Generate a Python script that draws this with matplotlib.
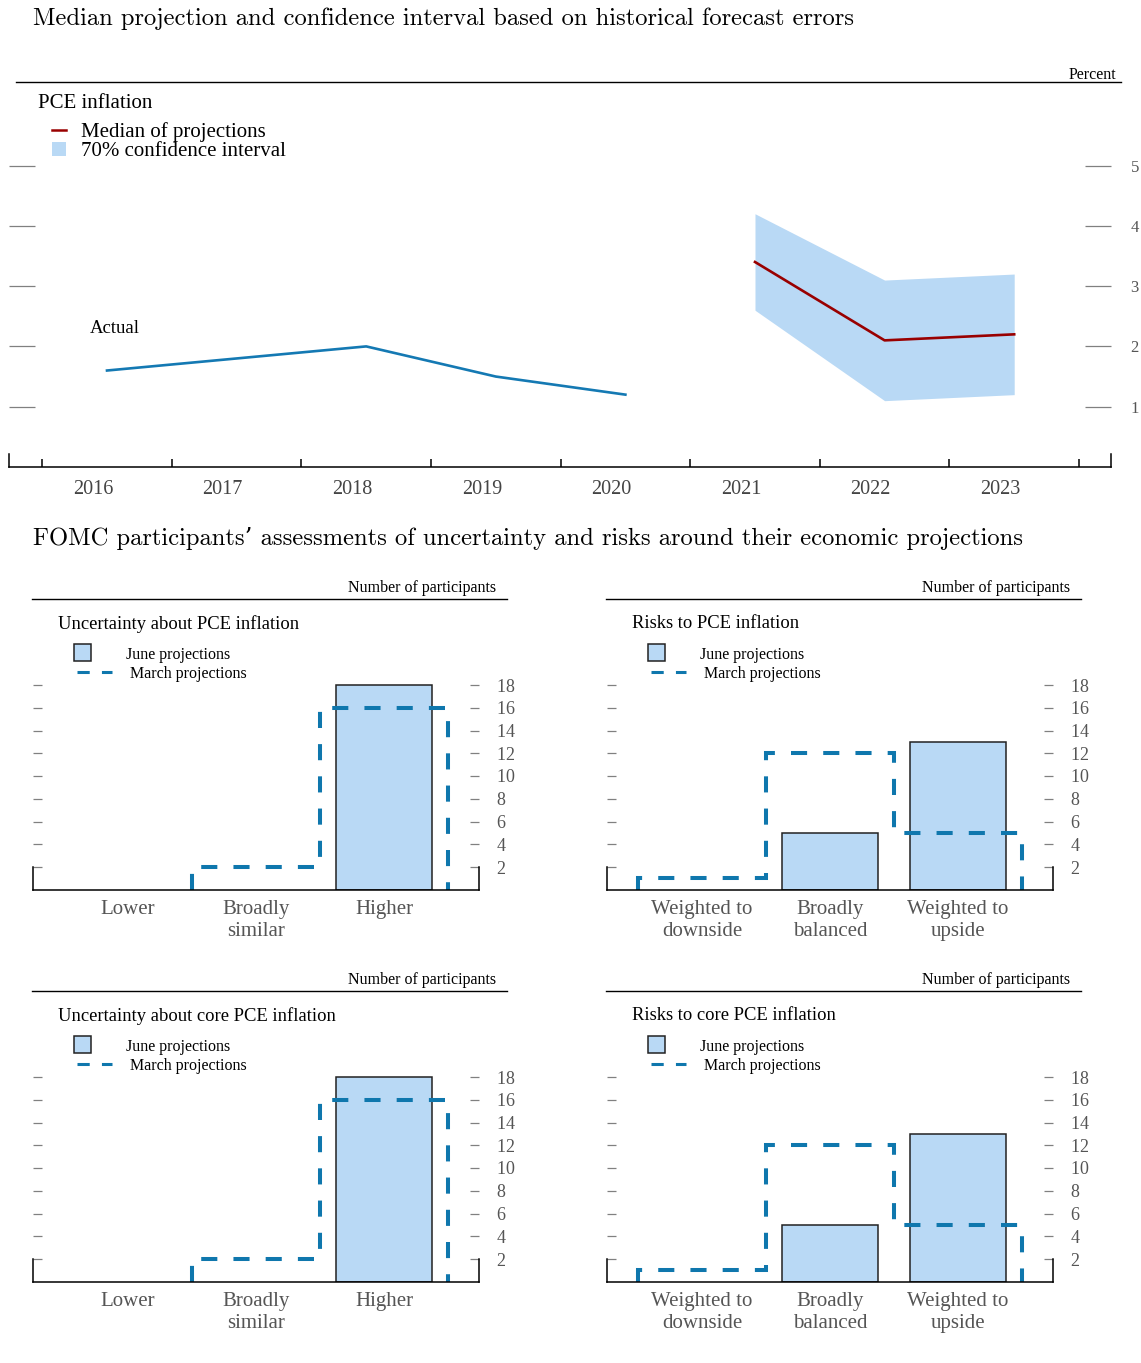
import matplotlib
matplotlib.use('Agg')
import matplotlib.pyplot as plt
import matplotlib.transforms as mtransforms
from matplotlib.lines import Line2D
from matplotlib.patches import Rectangle
import numpy as np

# ---------------- data ----------------
actual_years = [2016, 2017, 2018, 2019, 2020]
actual_values = [1.6, 1.8, 2.0, 1.5, 1.2]
proj_years = [2021, 2022, 2023]
median_values = [3.4, 2.1, 2.2]
ci_lower = [2.6, 1.1, 1.2]
ci_upper = [4.2, 3.1, 3.2]
year_labels = [2016, 2017, 2018, 2019, 2020, 2021, 2022, 2023]
pct_ticks = [1, 2, 3, 4, 5]

uncert_categories = ['Lower', 'Broadly\nsimilar', 'Higher']
risk_categories = ['Weighted to\ndownside', 'Broadly\nbalanced', 'Weighted to\nupside']
pce_uncert_june = [0, 0, 18]
pce_uncert_march = [0, 2, 16]
pce_risk_june = [0, 5, 13]
pce_risk_march = [1, 12, 5]
core_uncert_june = [0, 0, 18]
core_uncert_march = [0, 2, 16]
core_risk_june = [0, 5, 13]
core_risk_march = [1, 12, 5]
count_ticks = [2, 4, 6, 8, 10, 12, 14, 16, 18]

# ---------------- style ----------------
W, H = 1141, 1363
DPI = 100
SERIF = ['Liberation Serif', 'DejaVu Serif']
TITLE_FONT = ['cmr10', 'DejaVu Serif']
plt.rcParams['font.family'] = SERIF
plt.rcParams['axes.formatter.use_mathtext'] = True

BLUE_LINE = '#1479b3'
RED_LINE = '#990000'
CI_FILL = '#b9d9f5'
BAR_FILL = '#b9d9f5'
DASH_BLUE = '#0f77ad'
GRAY_TICK = '#808080'
GRAY_TEXT = '#555555'

fig = plt.figure(figsize=(W / DPI, H / DPI), dpi=DPI)


def fx(x):
    return x / W


def fy(y):
    return 1 - y / H


def ftext(x, y, s, **kw):
    fig.text(fx(x), fy(y + 2), s, **kw)


def hline(x0, x1, y, lw=1.0, color='black'):
    fig.add_artist(Line2D([fx(x0), fx(x1)], [fy(y), fy(y)], lw=lw, color=color,
                          transform=fig.transFigure))


# ================= Top chart =================
ftext(33, 17, 'Median projection and confidence interval based on historical forecast errors',
      family=TITLE_FONT, fontsize=17.7, va='center', ha='left')
hline(16, 1121, 82, lw=1.0)
ftext(1116, 73, 'Percent', fontsize=11.5, ha='right', va='center')
ftext(38, 101, 'PCE inflation', fontsize=15, ha='left', va='center')
fig.add_artist(Line2D([fx(52), fx(66)], [fy(130), fy(130)], lw=1.8, color=RED_LINE,
                      transform=fig.transFigure))
ftext(81, 130, 'Median of projections', fontsize=15, ha='left', va='center')
fig.add_artist(Rectangle((fx(52), fy(156)), fx(14), 14 / H, facecolor=CI_FILL,
                         edgecolor='none', transform=fig.transFigure))
ftext(81, 149, '70% confidence interval', fontsize=15, ha='left', va='center')

ax_top_y0, ax_top_y1 = 467, 147
ymax_top = (ax_top_y0 - ax_top_y1) / 60.3
ax = fig.add_axes([fx(9), fy(ax_top_y0), fx(1111 - 9), (ax_top_y0 - ax_top_y1) / H])
px_per_year = 129.6
ax.set_xlim(2016 - (107 - 9) / px_per_year, 2016 + (1111 - 107) / px_per_year)
ax.set_ylim(0, ymax_top)

ax.fill_between(proj_years, ci_lower, ci_upper, color=CI_FILL, lw=0, zorder=1)
ax.plot(proj_years, median_values, color=RED_LINE, lw=1.9, zorder=3)
ax.plot(actual_years, actual_values, color=BLUE_LINE, lw=1.9, zorder=3)
ax.text(2016 - 17 / px_per_year, 2.29, 'Actual', fontsize=13.5, ha='left', va='center')

ax.spines['top'].set_visible(False)
for s in ['left', 'right']:
    ax.spines[s].set_bounds(0, 0.21)
    ax.spines[s].set_linewidth(1.1)
ax.spines['bottom'].set_linewidth(1.1)
ax.set_xticks([y - 0.5 for y in year_labels] + [year_labels[-1] + 0.5])
ax.tick_params(axis='x', direction='in', length=5.8, width=1.1, labelbottom=False)
ax.set_yticks(pct_ticks)
ax.tick_params(axis='y', left=True, right=True, direction='in', length=18.7, width=0.9,
               color=GRAY_TICK, labelleft=False, labelright=True, pad=14,
               labelsize=12, labelcolor=GRAY_TEXT)
tr = mtransforms.blended_transform_factory(ax.transData, fig.transFigure)
for yr in year_labels:
    ax.text(yr - 14 / px_per_year, fy(490), str(yr), transform=tr, ha='center', va='center',
            fontsize=14.5, color='#444444')

# ================= Bottom panels =================
ftext(33, 536, 'FOMC participants\u2019 assessments of uncertainty and risks around their economic projections',
      family=TITLE_FONT, fontsize=17.7, va='center', ha='left')

PX_UNIT = 11.375
YMAX = 18.5


def march_path(vals):
    vals = list(vals)
    nz = [i for i, v in enumerate(vals) if v != 0]
    first, last = nz[0], nz[-1]
    xs, ys = [first - 0.5], [0]
    for i in range(first, last + 1):
        xs += [i - 0.5, i + 0.5]
        ys += [vals[i], vals[i]]
    xs.append(last + 0.5)
    ys.append(0)
    return xs, ys


def panel(xoff, yoff, title, cats, june, march):
    # header
    ftext(496 + xoff, 586 + yoff, 'Number of participants', fontsize=11.5, ha='right', va='center')
    hline(32 + xoff, 507 + xoff, 599 + yoff, lw=1.0)
    ftext(58 + xoff, 622 + yoff, title, fontsize=13.4, ha='left', va='center')
    # legend
    fig.add_artist(Rectangle((fx(74 + xoff), fy(661 + yoff)), fx(17), 17 / H, facecolor=BAR_FILL,
                             edgecolor='#222222', lw=1.1, transform=fig.transFigure))
    ftext(126 + xoff, 653 + yoff, 'June projections', fontsize=11.5, ha='left', va='center')
    fig.add_artist(Line2D([fx(77 + xoff), fx(112 + xoff)], [fy(672 + yoff)] * 2, lw=2.2,
                          color=DASH_BLUE, dashes=(4, 4), transform=fig.transFigure))
    ftext(130 + xoff, 672 + yoff, 'March projections', fontsize=11.5, ha='left', va='center')

    y0 = 889.75 + yoff
    y1 = y0 - YMAX * PX_UNIT
    x0 = 33 + xoff
    x1 = 479 + xoff
    a = fig.add_axes([fx(x0), fy(y0), fx(x1 - x0), (y0 - y1) / H])
    a.set_xlim(-0.742, 2.742)
    a.set_ylim(0, YMAX)
    xpos = np.arange(len(cats))
    a.bar(xpos, june, width=0.75, color=BAR_FILL, edgecolor='#222222',
          linewidth=[1.1 if v > 0 else 0 for v in june], zorder=2)
    mx, my = march_path(march)
    a.plot(mx, my, color=DASH_BLUE, lw=2.9, dashes=(4, 4), zorder=3,
           dash_joinstyle='miter', dash_capstyle='butt')
    a.spines['top'].set_visible(False)
    for s in ['left', 'right']:
        a.spines[s].set_bounds(0, 2)
        a.spines[s].set_linewidth(1.1)
    a.spines['bottom'].set_linewidth(1.1)
    a.spines['bottom'].set_zorder(4)
    a.set_yticks(count_ticks)
    a.tick_params(axis='y', left=True, right=True, direction='in', length=6.5, width=0.9,
                  color=GRAY_TICK, labelleft=False, labelright=True, pad=12,
                  labelsize=13, labelcolor=GRAY_TEXT)
    a.set_xticks(xpos)
    a.set_xticklabels(cats, linespacing=1.2)
    a.tick_params(axis='x', length=0, pad=7.5, labelsize=15, labelcolor=GRAY_TEXT)
    a.patch.set_alpha(0)
    return a


panel(0, 0, 'Uncertainty about PCE inflation', uncert_categories, pce_uncert_june, pce_uncert_march)
panel(574, 0, 'Risks to PCE inflation', risk_categories, pce_risk_june, pce_risk_march)
panel(0, 392, 'Uncertainty about core PCE inflation', uncert_categories, core_uncert_june, core_uncert_march)
panel(574, 392, 'Risks to core PCE inflation', risk_categories, core_risk_june, core_risk_march)

fig.savefig('out.png', dpi=DPI)
